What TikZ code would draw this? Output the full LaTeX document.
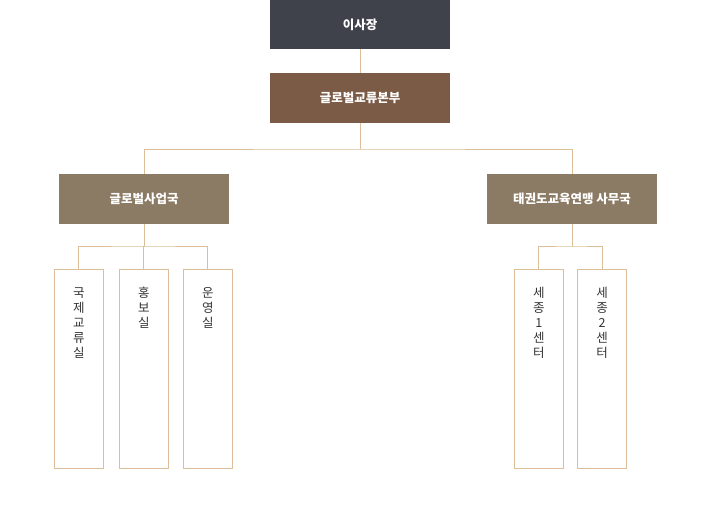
\documentclass[tikz,border=0pt]{standalone}
\usepackage{fontspec}
\setmainfont{Noto Sans CJK KR}
\usetikzlibrary{positioning}
\definecolor{topgray}{HTML}{3F424B}
\definecolor{hqbrown}{HTML}{7B5A46}
\definecolor{deptbrown}{HTML}{8B7A64}
\definecolor{linetan}{HTML}{DCBF98}
\definecolor{textgray}{HTML}{333333}
\newcommand\vstack[1]{\begin{tabular}[t]{@{}c@{}}#1\end{tabular}}

\begin{document}
\begin{tikzpicture}[x=1pt,y=-1pt,
		headbox/.style={rectangle,minimum width=180pt,minimum height=49pt,inner sep=0pt,
			text=white,font=\fontsize{12.5}{15}\selectfont\bfseries},
		deptbox/.style={headbox,fill=deptbrown,minimum width=170pt,minimum height=50pt},
		subbox/.style={rectangle,draw=linetan,line width=1pt,anchor=north,
			minimum width=49pt,minimum height=199pt,inner xsep=0pt,inner ysep=19pt,
			text height=9pt,text depth=152pt,text=textgray,
			font=\fontsize{12.5}{15}\selectfont},
		link/.style={draw=linetan,line width=1pt}]
		\useasboundingbox (0,0) rectangle (720,511);
		\node[headbox,fill=topgray] (chair) at (360,24.5) {이사장};
		\node[headbox,fill=hqbrown,minimum height=50pt] (hq) at (360,98) {글로벌교류본부};
		\node[deptbox] (global) at (144,199) {글로벌사업국};
		\node[deptbox] (tkd) at (572,199) {태권도교육연맹 사무국};
		\node[subbox] (intl) at (78.8,269) {\vstack{국\\제\\교\\류\\실}};
		\node[subbox] (pr) at (143.8,269) {\vstack{홍\\보\\실}};
		\node[subbox] (ops) at (207.8,269) {\vstack{운\\영\\실}};
		\node[subbox] (sj1) at (538.8,269) {\vstack{세\\종\\1\\센\\터}};
		\node[subbox] (sj2) at (602,269) {\vstack{세\\종\\2\\센\\터}};
		\coordinate (hqjoint) at (360,149);
		\coordinate (globaljoint) at (144,246);
		\coordinate (tkdjoint) at (572,246);
		\draw[link] (chair.south) -- (hq.north);
		\draw[link] (hq.south) -- (hqjoint);
		\draw[link] (global.north) |- (hqjoint) -| (tkd.north);
		\draw[link] (global.south) -- (globaljoint);
		\draw[link] (intl.north) |- (globaljoint) -| (ops.north);
		\draw[link] (pr.north) -- (pr.north |- globaljoint);
		\draw[link] (tkd.south) -- (tkdjoint);
		\draw[link] (sj1.north) |- (tkdjoint) -| (sj2.north);
	\end{tikzpicture}
\end{document}
